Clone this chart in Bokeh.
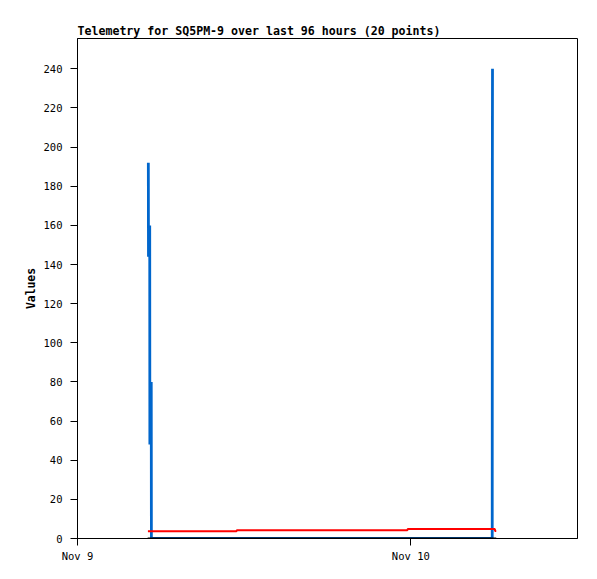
from bokeh.plotting import figure
from bokeh.models import Range1d, FixedTicker
from bokeh.embed import file_html
from bokeh.resources import INLINE

# Time in hours since Nov 9 00:00
blue_t = [5.10, 5.11, 5.20, 5.21, 5.31, 5.32, 29.86, 29.87, 29.88]
blue_v = [192, 144, 160, 48, 80, 0, 0, 192, 240]

red_t = [5.07, 11.45, 11.47, 23.75, 23.77, 30.05, 30.07, 30.15]
red_v = [3.7, 3.7, 4.2, 4.2, 4.8, 4.8, 3.8, 3.8]

black_t = [5.05, 30.15]
black_v = [0, 0]

x_ticks = [0, 24]
x_tick_labels = ["Nov 9", "Nov 10"]
y_ticks = list(range(0, 241, 20))

MONO = "DejaVu Sans Mono"

p = figure(width=589, height=572, output_backend="svg", toolbar_location=None,
           x_range=Range1d(0, 36), y_range=Range1d(0, 255.5),
           min_border_left=77, min_border_right=12, min_border_top=38, min_border_bottom=34,
           title="Telemetry for SQ5PM-9 over last 96 hours (20 points)")

p.title.text_font = MONO
p.title.text_font_size = "11.6px"
p.title.text_font_style = "bold"
p.title.text_color = "black"
p.title.align = "left"
p.title.offset = 0
p.title.standoff = 2

p.grid.visible = False
p.outline_line_color = "black"
p.outline_line_width = 1
p.background_fill_color = "white"
p.border_fill_color = "white"

p.xaxis.ticker = FixedTicker(ticks=x_ticks)
p.xaxis.major_label_overrides = {t: l for t, l in zip(x_ticks, x_tick_labels)}
p.yaxis.ticker = FixedTicker(ticks=y_ticks)
for ax in (p.xaxis, p.yaxis):
    ax.major_tick_out = 7
    ax.major_tick_in = 0
    ax.minor_tick_out = 0
    ax.minor_tick_in = 0
    ax.major_label_text_font = MONO
    ax.major_label_text_font_size = "10.5px"
    ax.major_label_text_color = "black"
    ax.axis_line_color = "black"
    ax.major_tick_line_color = "black"
p.xaxis.major_label_standoff = 4
p.yaxis.major_label_standoff = 8
p.yaxis.axis_label = "Values"
p.yaxis.axis_label_text_font = MONO
p.yaxis.axis_label_text_font_size = "11.4px"
p.yaxis.axis_label_text_font_style = "bold"
p.yaxis.axis_label_standoff = 3
p.yaxis.axis_label_text_color = "black"

p.line(blue_t, blue_v, line_color="#0066CC", line_width=2.8)
p.line(red_t, red_v, line_color="#FF0000", line_width=2)
p.line(black_t, black_v, line_color="black", line_width=2)

open("out.html", "w").write(file_html(p, INLINE))
